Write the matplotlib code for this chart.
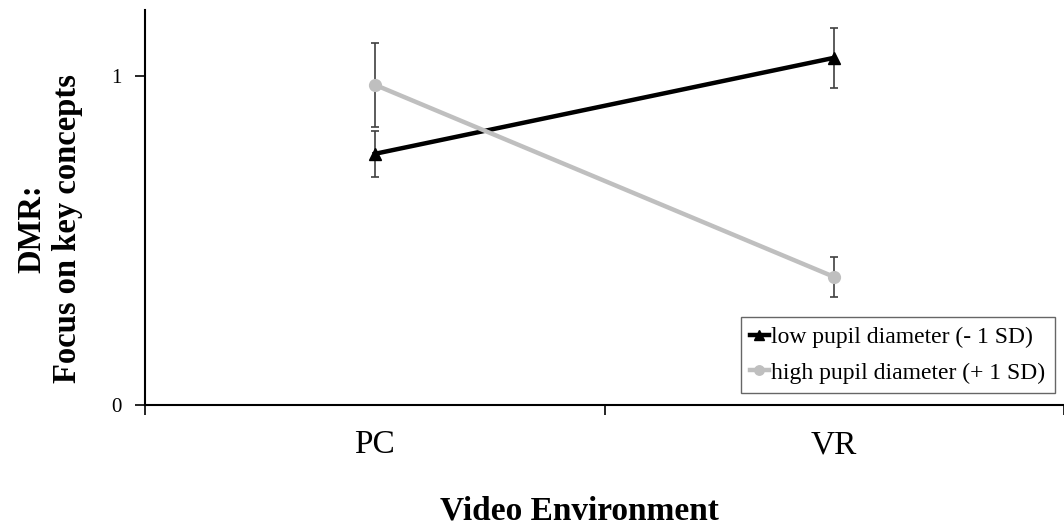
import matplotlib.pyplot as plt

plt.rcParams['font.family'] = ['Liberation Serif', 'DejaVu Serif']

environments = ['PC', 'VR']
low_mean = [0.763, 1.055]
low_err = [0.070, 0.091]
high_mean = [0.973, 0.389]
high_err = [0.127, 0.060]

fig = plt.figure(figsize=(10.64, 5.28), dpi=100)
ax = fig.add_axes([0.1363, 0.233, 0.8637, 0.748])

x = range(len(environments))

# low pupil diameter (black, triangles)
ax.errorbar(x, low_mean, yerr=low_err, fmt='none', ecolor='#404040',
            elinewidth=1.2, capsize=3, capthick=1.2, zorder=2)
ax.plot(x, low_mean, color='black', lw=3.2, marker='^', markersize=9,
        label='low pupil diameter (- 1 SD)', zorder=3)

# high pupil diameter (grey, circles)
ax.errorbar(x, high_mean, yerr=high_err, fmt='none', ecolor='#404040',
            elinewidth=1.2, capsize=3, capthick=1.2, zorder=2)
ax.plot(x, high_mean, color='#bfbfbf', lw=3.2, marker='o', markersize=8.5,
        label='high pupil diameter (+ 1 SD)', zorder=4)

ax.set_xlim(-0.5, 1.48)
ax.set_ylim(0, 1.2)

ax.set_xticks(list(x))
ax.set_xticklabels(environments, fontsize=24)
ax.set_xticks([-0.5, 0.5, 1.5], minor=True)
ax.tick_params(axis='x', which='major', length=0, pad=18)
ax.tick_params(axis='x', which='minor', length=7, width=1.2, direction='out')

ax.set_yticks([0, 1])
ax.set_yticklabels(['0', '1'], fontsize=15)
ax.tick_params(axis='y', length=7, width=1.2, direction='out', pad=10)

for side in ['top', 'right']:
    ax.spines[side].set_visible(False)
for side in ['left', 'bottom']:
    ax.spines[side].set_linewidth(1.5)

fig.text(50 / 1064, 1 - 229 / 528, 'DMR:\nFocus on key concepts', fontsize=23.5,
         fontweight='bold', rotation=90, ha='center', va='center',
         linespacing=1.2)
fig.text(579 / 1064, 1 - 520 / 528, 'Video Environment', fontsize=24,
         fontweight='bold', ha='center', va='baseline')

leg = ax.legend(loc='lower right', bbox_to_anchor=(0.99, 0.03), fontsize=17,
                frameon=True, fancybox=False, handlelength=0.8,
                handletextpad=0.1, borderpad=0.4, labelspacing=0.6,
                borderaxespad=0, markerscale=0.8)
leg.get_frame().set_edgecolor('#404040')
leg.get_frame().set_linewidth(1.0)

fig.savefig('out.png', dpi=100)
